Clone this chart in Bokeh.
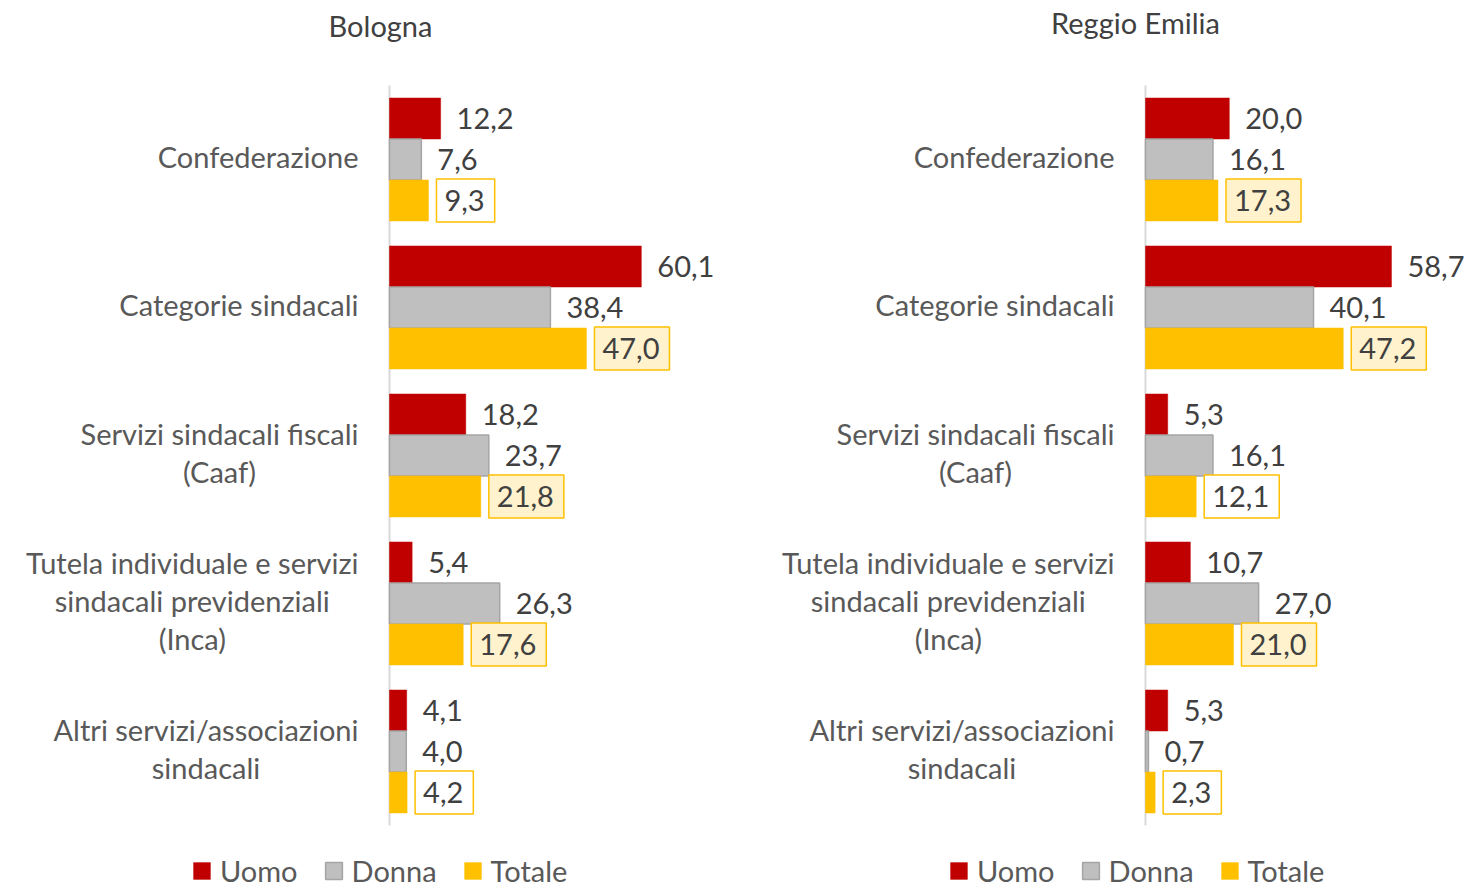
from bokeh.plotting import figure
from bokeh.models import ColumnDataSource, Range1d, Legend, LegendItem, Label
from bokeh.transform import dodge
from bokeh.layouts import row
from bokeh.embed import file_html
from bokeh.resources import INLINE
from bokeh.core.properties import value

# ---------------- data ----------------
categories = [
    "Confederazione",
    "Categorie sindacali",
    "Servizi sindacali fiscali\n(Caaf)",
    "Tutela individuale e servizi\nsindacali previdenziali\n(Inca)",
    "Altri servizi/associazioni\nsindacali",
]
series_names = ["Uomo", "Donna", "Totale"]

bologna_uomo = [12.2, 60.1, 18.2, 5.4, 4.1]
bologna_donna = [7.6, 38.4, 23.7, 26.3, 4.0]
bologna_totale = [9.3, 47.0, 21.8, 17.6, 4.2]

reggio_uomo = [20.0, 58.7, 5.3, 10.7, 5.3]
reggio_donna = [16.1, 40.1, 16.1, 27.0, 0.7]
reggio_totale = [17.3, 47.2, 12.1, 21.0, 2.3]

# ---------------- style ----------------
FONT = "Lato"
FS = 29
RED = "#C00000"
GRAY = "#BFBFBF"
GRAY_EDGE = "#A5A5A5"
YELLOW = "#FFC000"
LIGHT_YELLOW = "#FFF2CC"
LABEL_COLOR = "#404040"
CAT_COLOR = "#595959"

PX_PER_UNIT = 4.19     # horizontal px per percentage point
AXIS_PX = 389          # px from figure left to the value axis
STEP_PX = 148          # px per category
FIRST_CENTER_PX = 159  # px from top to the first category centre
FIG_H = 892
BAR_H = 0.277

N = len(categories)
ypos = [N - 1 - i for i in range(N)]  # first category on top


def fmt(v):
    return f"{v:.1f}".replace(".", ",")


def py(px_from_top):
    """vertical pixel -> y data value"""
    return (N - 1) + (FIRST_CENTER_PX - px_from_top) / STEP_PX


def make_panel(title, uomo, donna, totale, width, title_x_px, title_y_px, legend_x_px):
    x0 = -AXIS_PX / PX_PER_UNIT
    x1 = (width - AXIS_PX) / PX_PER_UNIT
    p = figure(
        width=width, height=FIG_H,
        y_range=Range1d(py(FIG_H), py(0)),
        x_range=Range1d(x0, x1),
        x_axis_location=None, y_axis_location=None,
        output_backend="svg", toolbar_location=None,
        min_border_left=0, min_border_right=0,
        min_border_top=0, min_border_bottom=0,
    )
    p.grid.visible = False
    p.outline_line_color = None
    p.background_fill_color = "white"

    # value axis line (spans the category block)
    p.segment(x0=[0], x1=[0], y0=[min(ypos) - 0.5], y1=[max(ypos) + 0.5],
              line_color="#D9D9D9", line_width=2)

    offsets = [BAR_H, 0.0, -BAR_H]
    fills = [RED, GRAY, YELLOW]
    edges = [RED, GRAY_EDGE, YELLOW]
    edge_w = [0.5, 1.5, 0.5]
    items = []
    for name, vals, off, fc, ec, ew in zip(series_names, [uomo, donna, totale], offsets, fills, edges, edge_w):
        src = ColumnDataSource(dict(
            y=ypos, value=vals, label=[fmt(v) for v in vals],
            bg=[LIGHT_YELLOW if v >= 15 else "white" for v in vals],
        ))
        r = p.hbar(y=dodge("y", off), left=0, right="value", height=BAR_H,
                   fill_color=fc, line_color=ec, line_width=ew, source=src)
        items.append(LegendItem(label=name, renderers=[r]))
        if name == "Totale":
            p.text(x="value", y=dodge("y", off), text="label", source=src,
                   x_offset=8, text_align="left", text_baseline="middle",
                   text_font=value(FONT), text_font_size=f"{FS}px", text_color=LABEL_COLOR,
                   background_fill_color="bg", border_line_color=YELLOW, border_line_width=1.5,
                   padding=dict(left=8, right=10, top=11, bottom=11))
        else:
            p.text(x="value", y=dodge("y", off), text="label", source=src,
                   x_offset=16, text_align="left", text_baseline="middle",
                   text_font=value(FONT), text_font_size=f"{FS}px", text_color=LABEL_COLOR)

    cat_src = ColumnDataSource(dict(y=ypos, cat=categories, x=[0] * N))
    p.text(x="x", y="y", text="cat", source=cat_src, x_offset=-31, y_offset=-3,
           anchor="center_right", text_align="center", text_baseline="middle",
           text_line_height=1.09,
           text_font=value(FONT), text_font_size=f"{FS}px", text_color=CAT_COLOR)

    p.add_layout(Label(x=(title_x_px - AXIS_PX) / PX_PER_UNIT, y=py(title_y_px),
                       text=title, text_align="center", text_baseline="middle",
                       text_font=FONT, text_font_size=f"{FS}px", text_color=LABEL_COLOR))

    legend = Legend(items=items, orientation="horizontal", location=(legend_x_px, 4),
                    padding=0, margin=0, spacing=25, label_standoff=8,
                    glyph_width=21, glyph_height=21, label_height=30,
                    border_line_color=None, background_fill_alpha=0,
                    label_text_font=FONT, label_text_font_size=f"{FS}px",
                    label_text_color=CAT_COLOR)
    p.add_layout(legend, "center")
    return p


p1 = make_panel("Bologna", bologna_uomo, bologna_donna, bologna_totale, 756, 380, 25, 191)
p2 = make_panel("Reggio Emilia", reggio_uomo, reggio_donna, reggio_totale, 712, 1135 - 756, 22, 192)

layout = row(p1, p2)
open("out.html", "w").write(file_html(layout, INLINE))
